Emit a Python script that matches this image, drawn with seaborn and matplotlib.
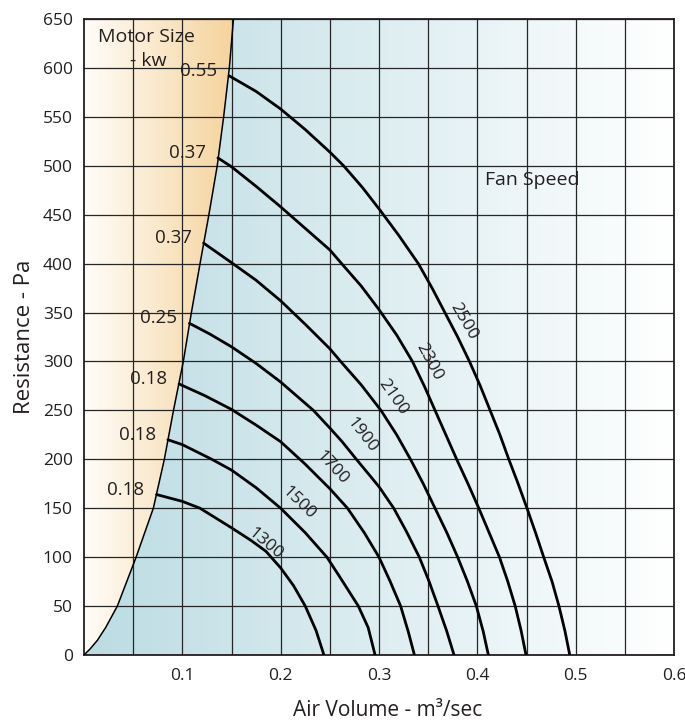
import numpy as np
import pandas as pd
import matplotlib.pyplot as plt
import seaborn as sns
from matplotlib.colors import LinearSegmentedColormap
from matplotlib.patches import Polygon

# fan speeds (rpm) with motor size (kw) at the top of each curve
speeds = [1300, 1500, 1700, 1900, 2100, 2300, 2500]
motor_kw = ['0.18', '0.18', '0.18', '0.25', '0.37', '0.37', '0.55']

# curves: air volume (m3/s) vs resistance (Pa)
vol_1300 = [0.0738, 0.1, 0.118, 0.15, 0.17, 0.185, 0.2, 0.213, 0.225, 0.236, 0.244]
res_1300 = [164, 157, 150, 130, 117, 106, 89, 71, 50, 25, 0]
vol_1500 = [0.0853, 0.1, 0.13, 0.15, 0.175, 0.2, 0.225, 0.247, 0.26, 0.279, 0.289, 0.296]
res_1500 = [220, 215, 200, 189, 171, 150, 125, 100, 80, 50, 28, 0]
vol_1700 = [0.0967, 0.123, 0.15, 0.175, 0.2, 0.225, 0.25, 0.268, 0.285, 0.3, 0.311, 0.322, 0.33, 0.336]
res_1700 = [277, 265, 251, 235, 218, 195, 170, 150, 125, 100, 76, 50, 23, 0]
vol_1900 = [0.1072, 0.128, 0.15, 0.175, 0.2, 0.2333, 0.25, 0.2625, 0.277, 0.3, 0.315, 0.328, 0.341,
            0.351, 0.36, 0.369, 0.3763]
res_1900 = [339, 328, 315, 298, 279, 250, 232, 218, 200, 172, 150, 126, 100, 75, 50, 24, 0]
vol_2100 = [0.1216, 0.15, 0.175, 0.2, 0.225, 0.25, 0.261, 0.282, 0.302, 0.318, 0.332, 0.345, 0.357,
            0.369, 0.38, 0.39, 0.399, 0.406, 0.4112]
res_2100 = [421, 401, 383, 362, 338, 313, 300, 276, 250, 225, 200, 175, 150, 125, 100, 75, 50, 24, 0]
vol_2300 = [0.1362, 0.15, 0.175, 0.2, 0.225, 0.25, 0.262, 0.282, 0.3, 0.318, 0.334, 0.346, 0.357,
            0.368, 0.379, 0.3905, 0.4015, 0.412, 0.4225, 0.431, 0.4385, 0.4445, 0.4495]
res_2300 = [508, 499, 479, 458, 436, 414, 400, 377, 353, 327, 300, 275, 250, 225, 200, 175, 150,
            125, 100, 75, 50, 25, 0]
vol_2500 = [0.1475, 0.175, 0.2, 0.225, 0.25, 0.264, 0.283, 0.3, 0.32, 0.34, 0.354, 0.367, 0.38,
            0.392, 0.403, 0.413, 0.423, 0.432, 0.4415, 0.4505, 0.4592, 0.4675, 0.476, 0.483, 0.489, 0.494]
res_2500 = [592, 576, 558, 537, 514, 500, 478, 456, 429, 400, 375, 350, 325, 300, 275, 250, 225,
            200, 175, 150, 125, 100, 75, 50, 25, 0]

# motor limit line
limit_vol = [0, 0.006, 0.0136, 0.022, 0.0339, 0.053, 0.0705, 0.0817, 0.091, 0.101, 0.1092, 0.118,
             0.127, 0.1355, 0.142, 0.1478, 0.152]
limit_res = [0, 6, 15, 28, 50, 100, 150, 200, 250, 300, 350, 400, 450, 500, 550, 600, 650]

x_ticks = [0.1, 0.2, 0.3, 0.4, 0.5, 0.6]
x_ticklabels = ['0.1', '0.2', '0.3', '0.4', '0.5', '0.6']
y_ticks = list(range(0, 651, 50))

curves = {
    1300: (vol_1300, res_1300), 1500: (vol_1500, res_1500),
    1700: (vol_1700, res_1700), 1900: (vol_1900, res_1900),
    2100: (vol_2100, res_2100), 2300: (vol_2300, res_2300),
    2500: (vol_2500, res_2500),
}
rows = []
for s in speeds:
    q, p = curves[s]
    for a, b in zip(q, p):
        rows.append((s, a, b))
df = pd.DataFrame(rows, columns=['speed', 'volume', 'resistance'])

# speed label placement (volume, resistance, angle)
speed_label_pos = {
    1300: (0.184, 114, -40), 1500: (0.2187, 155, -44), 1700: (0.2519, 191, -47),
    1900: (0.2824, 225, -52), 2100: (0.3146, 264, -55), 2300: (0.3509, 300, -62),
    2500: (0.3857, 341, -60),
}

ink = '#231f20'
sns.set_theme(style='white')
plt.rcParams['font.family'] = ['Open Sans', 'DejaVu Sans']

fig = plt.figure(figsize=(6.85, 7.22), dpi=100)
ax = fig.add_axes([84 / 685, 1 - 655 / 722, 590 / 685, 636 / 722])

# blue background fading to white
grad = np.linspace(0, 1, 256).reshape(1, -1)
blue = LinearSegmentedColormap.from_list('blue', ['#bbdce3', '#ffffff'])
ax.imshow(grad, extent=[0, 0.6, 0, 650], aspect='auto', cmap=blue, zorder=0)

# orange area left of the motor limit
orange = LinearSegmentedColormap.from_list('orange', ['#fffdf9', '#f5d39c'])
im = ax.imshow(grad, extent=[0, max(limit_vol), 0, 650], aspect='auto', cmap=orange, zorder=0.1)
poly = Polygon(np.column_stack([limit_vol + [0], limit_res + [650]]), closed=True,
               transform=ax.transData, facecolor='none', edgecolor='none')
ax.add_patch(poly)
im.set_clip_path(poly)

sns.lineplot(data=df, x='volume', y='resistance', units='speed', estimator=None,
             sort=False, color='black', lw=2.0, legend=False, ax=ax, zorder=3)
ax.plot(limit_vol, limit_res, color='black', lw=1.1, zorder=3)

for s, kw in zip(speeds, motor_kw):
    q, p = curves[s]
    ax.annotate(kw, (q[0], p[0]), xytext=(-12, 5), textcoords='offset pixels',
                ha='right', va='center', fontsize=13.5, color=ink)
    lx, ly, rot = speed_label_pos[s]
    ax.text(lx, ly, str(s), rotation=rot, rotation_mode='anchor', ha='center',
            va='center', fontsize=12.5, color=ink)

ax.text(0.064, 632, 'Motor Size', ha='center', va='center', fontsize=14, color=ink)
ax.text(0.065, 607, '- kw', ha='center', va='center', fontsize=14, color=ink)
ax.text(0.4078, 485, 'Fan Speed', ha='left', va='center', fontsize=14, color=ink)

ax.set_xlim(0, 0.6)
ax.set_ylim(0, 650)
ax.set_xticks(x_ticks)
ax.set_xticklabels(x_ticklabels)
ax.set_xticks(np.arange(0.05, 0.6, 0.1), minor=True)
ax.set_yticks(y_ticks)
ax.grid(which='both', color='#262626', lw=0.9)
ax.tick_params(which='both', length=0)
ax.tick_params(axis='x', pad=9, labelsize=12.5, colors=ink)
ax.tick_params(axis='y', pad=8, labelsize=12.5, colors=ink)
for sp in ax.spines.values():
    sp.set_color(ink)
    sp.set_linewidth(1.3)

ax.set_xlabel('Air Volume - m³/sec', fontsize=15, labelpad=12, color=ink, x=0.514)
ax.set_ylabel('Resistance - Pa', fontsize=16, labelpad=6, color=ink)

plt.savefig('out.png', dpi=100)
